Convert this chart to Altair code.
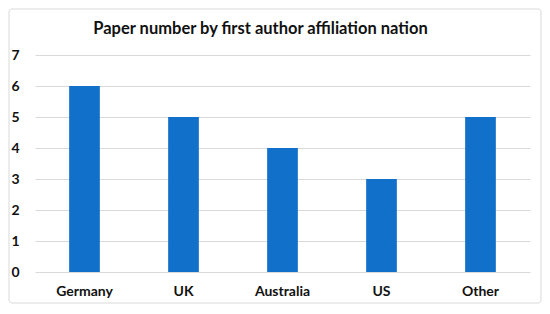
import altair as alt
import pandas as pd

nations = ["Germany", "UK", "Australia", "US", "Other"]
papers = [6, 5, 4, 3, 5]

df = pd.DataFrame({"nation": nations, "papers": papers})

FONT = "Lato"

bars = alt.Chart(df).mark_bar(color="#1170c9").encode(
    x=alt.X("nation:N", sort=nations, title=None,
            scale=alt.Scale(paddingInner=0.69, paddingOuter=0.345),
            axis=alt.Axis(labelAngle=0, labelFont=FONT, labelFontWeight="bold",
                          labelFontSize=14, labelColor="#111", labelPadding=12,
                          ticks=False, domain=False, grid=False)),
    y=alt.Y("papers:Q", title=None,
            scale=alt.Scale(domain=[0, 7]),
            axis=alt.Axis(values=list(range(8)), labelFont=FONT, labelFontWeight="bold",
                          labelFontSize=14, labelColor="#111", labelPadding=16,
                          ticks=False, domain=False, grid=True, gridColor="#d9d9d9",
                          gridWidth=1)),
)

border = alt.Chart(alt.Data(values=[{}])).mark_rect(
    fill=None, stroke="#d9d9d9", strokeWidth=1, cornerRadius=3, clip=False
).encode(
    x=alt.value(-26), x2=alt.value(506), y=alt.value(-46), y2=alt.value(248)
)

chart = alt.layer(border, bars).properties(
    width=495, height=217,
    title=alt.TitleParams("Paper number by first author affiliation nation",
                          font=FONT, fontSize=16.5, fontWeight="bold", color="#111",
                          anchor="middle", frame="group", dx=-22, offset=0, dy=29),
    autosize=alt.AutoSizeParams(type="none"),
    padding={"left": 27, "top": 47, "right": 12, "bottom": 40},
).configure_view(stroke=None)

chart.save("out.html", embed_options={"renderer": "svg", "actions": False})
